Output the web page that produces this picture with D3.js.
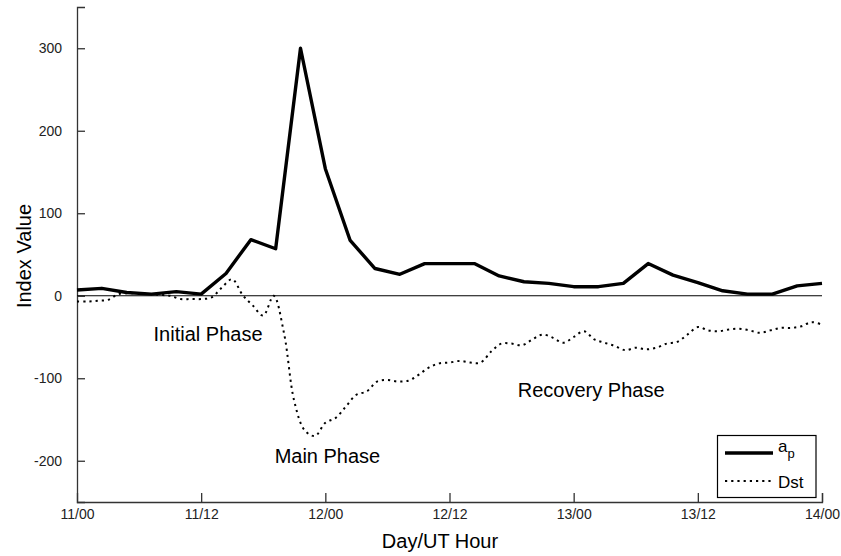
<!DOCTYPE html>
<html>
<head>
<meta charset="utf-8">
<script src="https://cdn.jsdelivr.net/npm/d3@7"></script>
<style>
  html, body { margin: 0; padding: 0; background: #fff; }
  svg { display: block; font-family: "Liberation Sans", Arial, Helvetica, sans-serif; }
</style>
</head>
<body>
<svg id="chart" width="841" height="556"></svg>
<script>
// ap index: 31 samples evenly spaced over 72 hours
const apValues = [7, 9, 4, 2, 5, 2, 27, 68, 57, 300, 154, 67, 33, 26, 39, 39, 39, 24, 17, 15, 11, 11, 15, 39, 25, 16, 6, 2, 2, 12, 15];
// Dst index: hourly, hours 0..72
const dstValues = [-7, -7, -6, -5, 2, 3, 3, 2, 1, 0, -4, -4, -4, -2, 10, 20, 1, -12, -24, 0, -45, -128, -163, -170, -154,
  -148, -134, -120, -116, -104, -102, -104, -103, -96, -87, -82, -81, -79, -81, -81, -68, -58, -58, -60, -53, -47, -51, -57,
  -50, -43, -53, -57, -61, -66, -63, -65, -63, -58, -56, -47, -38, -42, -43, -41, -40, -42, -45, -42, -39, -39, -37, -32, -35];
const xTickHours = [0, 12, 24, 36, 48, 60, 72];
const xTickLabels = ["11/00", "11/12", "12/00", "12/12", "13/00", "13/12", "14/00"];
const yTicks = [-200, -100, 0, 100, 200, 300];
const phaseLabels = [
  { text: "Initial Phase", hour: 7.4, value: -55 },
  { text: "Main Phase", hour: 19.1, value: -203 },
  { text: "Recovery Phase", hour: 42.6, value: -123 }
];

const svg = d3.select("#chart");
const x = d3.scaleLinear().domain([0, 72]).range([77, 822]);
const y = d3.scaleLinear().domain([-250, 350]).range([502, 7]);

const apHours = apValues.map((_, i) => i * 72 / (apValues.length - 1));
const dstHours = dstValues.map((_, i) => i);

// axes
const xAxis = d3.axisBottom(x).tickValues(xTickHours).tickSize(-9).tickPadding(16)
  .tickFormat((d, i) => xTickLabels[i]);
const gx = svg.append("g").attr("transform", `translate(0,${y(-250)})`).call(xAxis);
const yAxis = d3.axisLeft(y).tickValues(yTicks).tickSize(-8).tickPadding(15).tickFormat(d => String(d));
const gy = svg.append("g").attr("transform", `translate(${x(0)},0)`).call(yAxis);
[gx, gy].forEach(g => {
  g.select(".domain").attr("stroke", "#333").attr("stroke-width", 1.3);
  g.selectAll(".tick line").attr("stroke", "#333").attr("stroke-width", 1.3);
  g.selectAll(".tick text").attr("fill", "#222").style("font-size", "14px")
    .style("font-family", "'Liberation Sans', Arial, sans-serif");
});
gx.selectAll(".tick text").attr("dy", "0.71em").attr("y", 7);
gx.selectAll(".tick").filter(d => d === 0).select("line").remove();

// zero line
svg.append("line").attr("x1", x(0)).attr("x2", x(72)).attr("y1", y(0)).attr("y2", y(0))
  .attr("stroke", "#000").attr("stroke-width", 1.2);

// Dst dotted line
const dstLine = d3.line().x((d, i) => x(dstHours[i])).y(d => y(d)).curve(d3.curveCatmullRom);
svg.append("path").datum(dstValues).attr("d", dstLine)
  .attr("fill", "none").attr("stroke", "#000").attr("stroke-width", 2)
  .attr("stroke-dasharray", "2.2,4");

// ap solid line
const apLine = d3.line().x((d, i) => x(apHours[i])).y(d => y(d));
svg.append("path").datum(apValues).attr("d", apLine)
  .attr("fill", "none").attr("stroke", "#000").attr("stroke-width", 3.4)
  .attr("stroke-linejoin", "round");

// phase labels
svg.selectAll("text.phase").data(phaseLabels).enter().append("text")
  .attr("class", "phase")
  .attr("x", d => x(d.hour)).attr("y", d => y(d.value))
  .attr("fill", "#000").style("font-size", "20px").text(d => d.text);

// axis titles
svg.append("text").attr("x", 440).attr("y", 548).attr("text-anchor", "middle")
  .style("font-size", "20px").attr("fill", "#000").text("Day/UT Hour");
svg.append("text").attr("transform", "translate(31,256) rotate(-90)").attr("text-anchor", "middle")
  .style("font-size", "20px").attr("fill", "#000").text("Index Value");

// legend
const lg = svg.append("g");
lg.append("rect").attr("x", 717.5).attr("y", 435.5).attr("width", 98.5).attr("height", 62)
  .attr("fill", "#fff").attr("stroke", "#000").attr("stroke-width", 1.2);
lg.append("line").attr("x1", 725).attr("x2", 773).attr("y1", 453).attr("y2", 453)
  .attr("stroke", "#000").attr("stroke-width", 3.4);
lg.append("line").attr("x1", 725).attr("x2", 773).attr("y1", 481).attr("y2", 481)
  .attr("stroke", "#000").attr("stroke-width", 2).attr("stroke-dasharray", "2.2,4");
const apText = lg.append("text").attr("x", 778).attr("y", 452).style("font-size", "17px").attr("fill", "#000");
apText.append("tspan").text("a");
apText.append("tspan").attr("dy", 6).style("font-size", "13px").text("p");
lg.append("text").attr("x", 778).attr("y", 488).style("font-size", "17px").attr("fill", "#000").text("Dst");
</script>
</body>
</html>
